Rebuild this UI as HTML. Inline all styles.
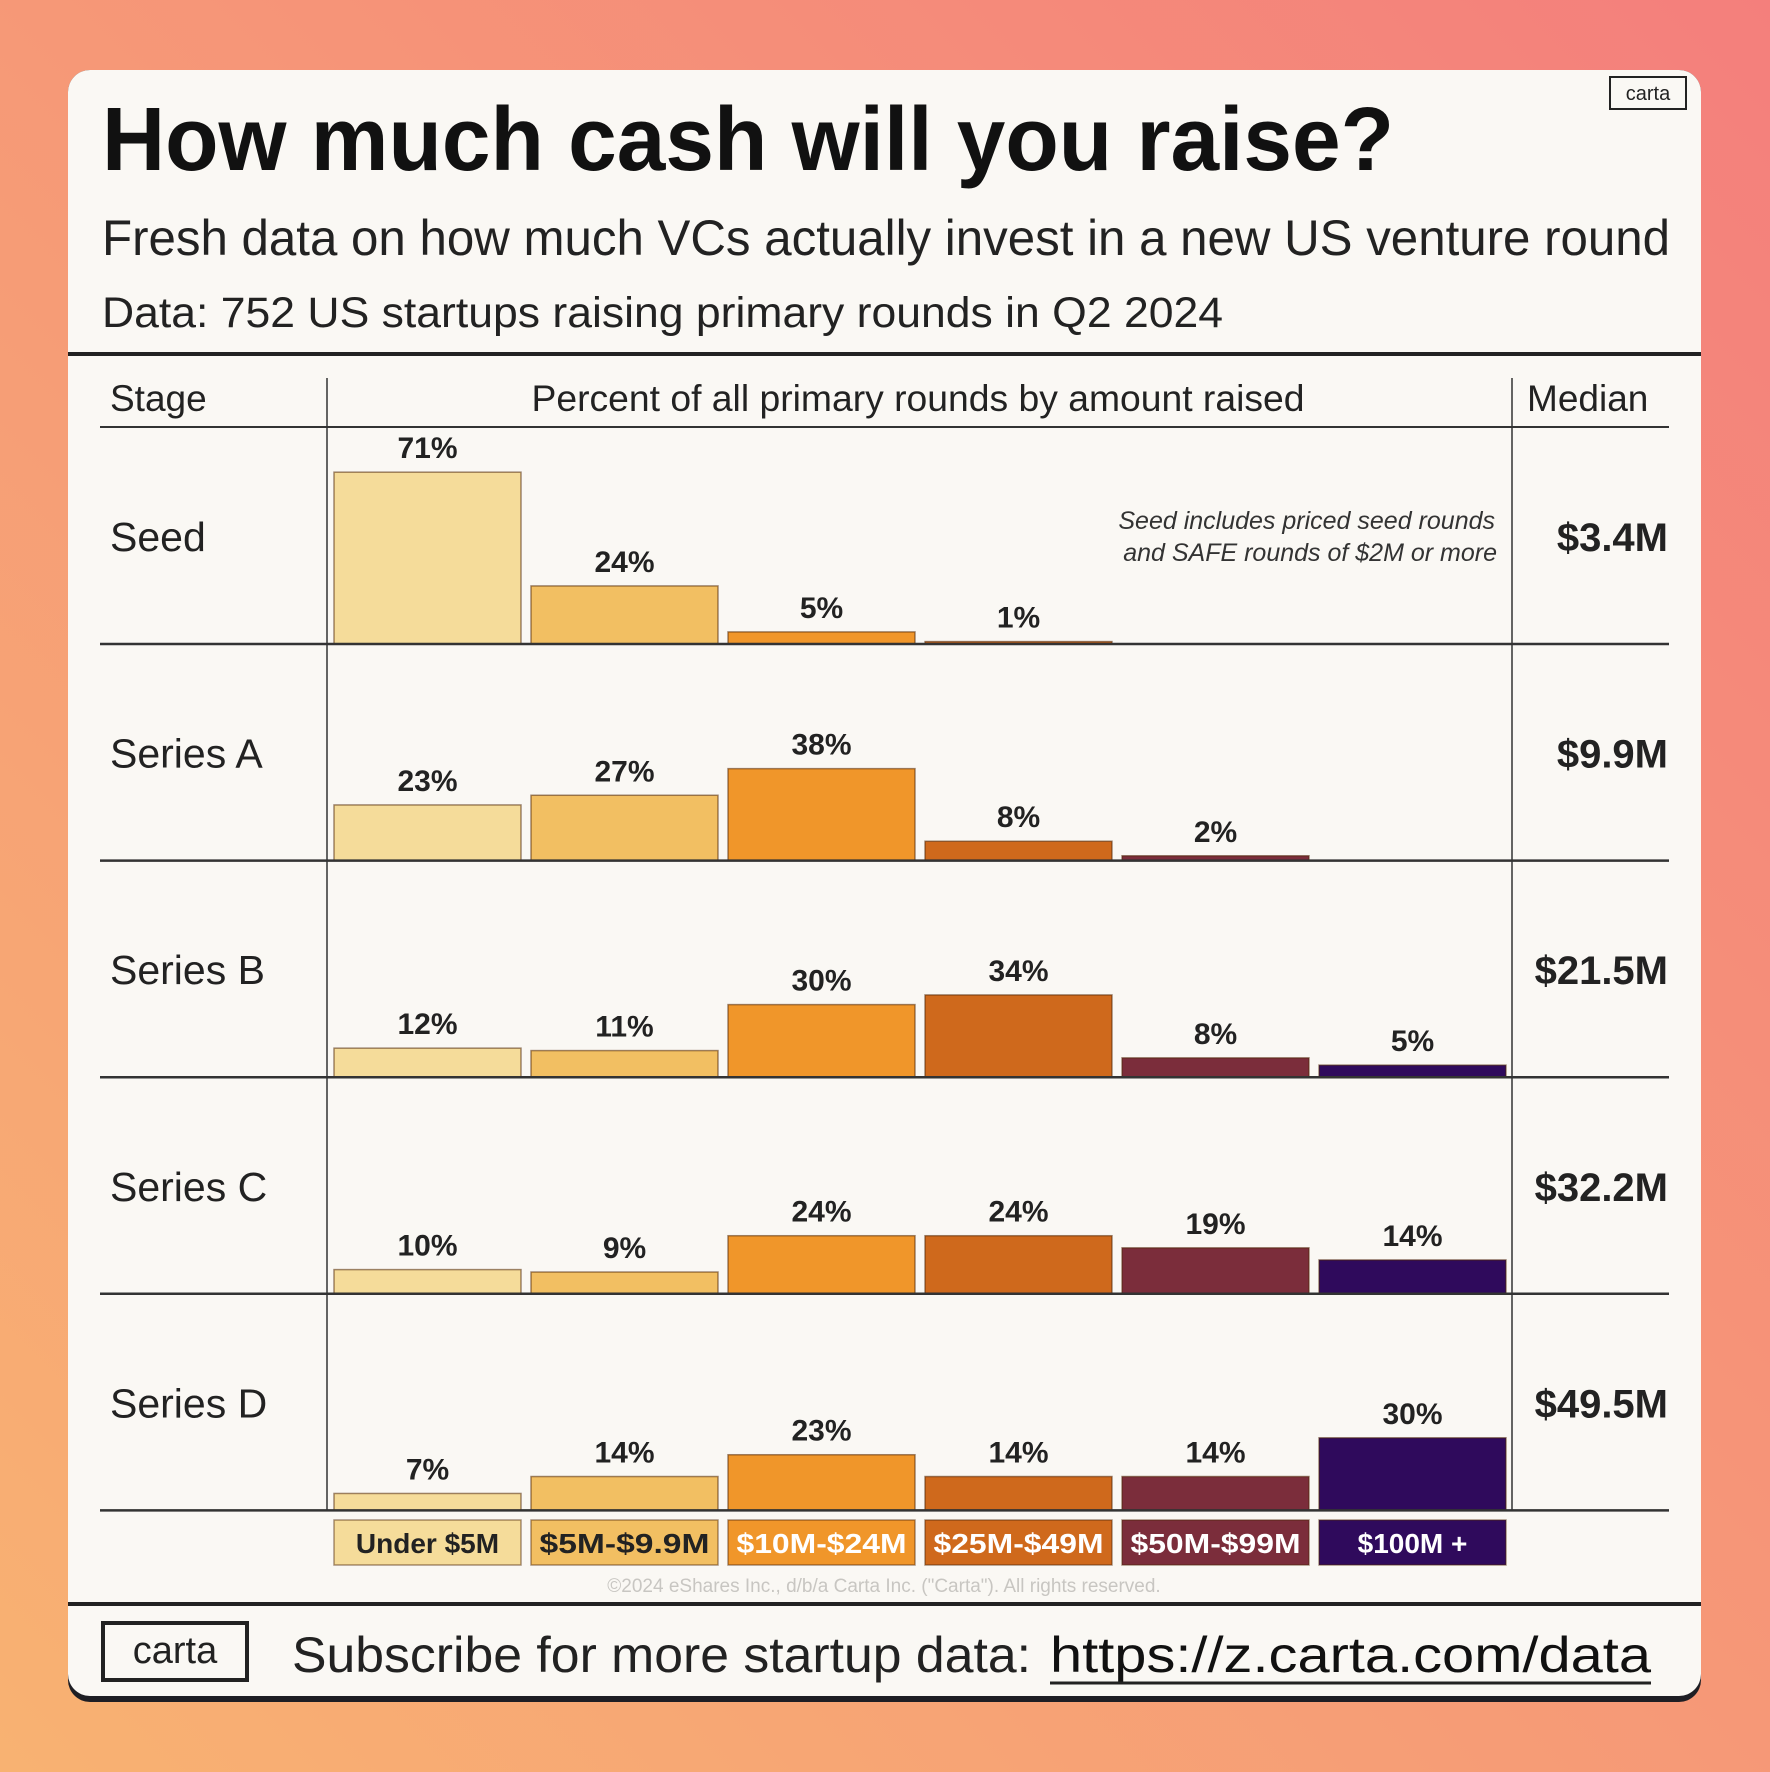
<!DOCTYPE html>
<html><head><meta charset="utf-8"><style>
html,body{margin:0;padding:0;width:1770px;height:1772px;overflow:hidden}
svg{display:block}
text{font-family:"Liberation Sans","DejaVu Sans",sans-serif}
</style></head><body>
<svg id="chart" width="1770" height="1772" viewBox="0 0 1770 1772" xmlns="http://www.w3.org/2000/svg">
<defs>
<linearGradient id="bg" x1="0" y1="1" x2="1" y2="0">
<stop offset="0" stop-color="#f8b272"/><stop offset="1" stop-color="#f47f7c"/>
</linearGradient>
</defs>
<rect width="1770" height="1772" fill="url(#bg)"/>
<rect x="68" y="70" width="1633" height="1632" rx="22" fill="#1e1e24"/>
<rect x="68" y="70" width="1633" height="1626" rx="22" fill="#faf8f4"/>
<rect x="1610" y="77" width="76" height="32" fill="none" stroke="#222" stroke-width="2"/>
<text x="1648" y="100" font-size="20" text-anchor="middle" fill="#222">carta</text>
<text x="102" y="170" font-size="90" font-weight="bold" fill="#111" textLength="1292" lengthAdjust="spacingAndGlyphs">How much cash will you raise?</text>
<text x="102" y="255" font-size="50" fill="#222" textLength="1568" lengthAdjust="spacingAndGlyphs">Fresh data on how much VCs actually invest in a new US venture round</text>
<text x="102" y="327" font-size="43" fill="#222" textLength="1121" lengthAdjust="spacingAndGlyphs">Data: 752 US startups raising primary rounds in Q2 2024</text>
<rect x="68" y="352" width="1633" height="4" fill="#222"/>
<text x="110" y="411" font-size="37" fill="#222">Stage</text>
<text x="918" y="411" font-size="37" fill="#222" text-anchor="middle" textLength="773" lengthAdjust="spacingAndGlyphs">Percent of all primary rounds by amount raised</text>
<text x="1527" y="411" font-size="37" fill="#222">Median</text>
<line x1="100" y1="427" x2="1669" y2="427" stroke="#333" stroke-width="2"/>
<line x1="327" y1="378" x2="327" y2="1510" stroke="#333" stroke-width="1.5"/>
<line x1="1512" y1="378" x2="1512" y2="1510" stroke="#333" stroke-width="1.5"/>
<text x="1495" y="529" font-size="25" font-style="italic" fill="#333" text-anchor="end">Seed includes priced seed rounds</text>
<text x="1497" y="561" font-size="25" font-style="italic" fill="#333" text-anchor="end">and SAFE rounds of $2M or more</text>
<g id="rows"></g>
<g id="legend"></g>
<text x="884" y="1592" font-size="19" fill="#c8c6c2" text-anchor="middle">©2024 eShares Inc., d/b/a Carta Inc. ("Carta"). All rights reserved.</text>
<rect x="68" y="1602" width="1633" height="4" fill="#222"/>
<rect x="103" y="1623" width="144" height="57" fill="none" stroke="#222" stroke-width="4"/>
<text x="175" y="1663" font-size="38" fill="#222" text-anchor="middle">carta</text>
<text x="292" y="1672" font-size="50" fill="#222" textLength="739" lengthAdjust="spacingAndGlyphs">Subscribe for more startup data:</text>
<text x="1050" y="1672" font-size="50" fill="#111" textLength="601" lengthAdjust="spacingAndGlyphs">https://z.carta.com/data</text>
<line x1="1050" y1="1683" x2="1651" y2="1683" stroke="#222" stroke-width="3"/>
</svg>
<script>
const stages = ["Seed","Series A","Series B","Series C","Series D"];
const medians = ["$3.4M","$9.9M","$21.5M","$32.2M","$49.5M"];
const categories = ["Under $5M","$5M-$9.9M","$10M-$24M","$25M-$49M","$50M-$99M","$100M +"];
const seedValues = [71,24,5,1,null,null];
const seriesAValues = [23,27,38,8,2,null];
const seriesBValues = [12,11,30,34,8,5];
const seriesCValues = [10,9,24,24,19,14];
const seriesDValues = [7,14,23,14,14,30];
const allValues = [seedValues,seriesAValues,seriesBValues,seriesCValues,seriesDValues];
const colors = ["#f5dc9a","#f2bf62","#f0962a","#cf691c","#7b2d3b","#2f0a5c"];
const legendText = ["#222","#222","#fff","#fff","#fff","#fff"];

const NS = "http://www.w3.org/2000/svg";
const rowBase0 = 644, rowPitch = 216.6;
const colX0 = 334, colPitch = 197, barW = 187, pxPerPct = 2.42;
function xPos(i){ return colX0 + i*colPitch; }
function yBase(r){ return rowBase0 + r*rowPitch; }
function hScale(v){ return v*pxPerPct; }
function mk(tag, attrs, parent){
  const el = document.createElementNS(NS, tag);
  for (const k in attrs) el.setAttribute(k, attrs[k]);
  parent.appendChild(el); return el;
}
const rows = document.getElementById("rows");
stages.forEach((s, r) => {
  const base = yBase(r);
  const g = mk("g", {}, rows);
  
  
  const lab = mk("text", {x:110, y:base-93, "font-size":41, fill:"#222"}, g);
  lab.textContent = s;
  
  
  const med = mk("text", {x:1668, y:base-93, "font-size":40, "font-weight":"bold", fill:"#222", "text-anchor":"end"}, g);
  med.textContent = medians[r];
  
  
  allValues[r].forEach((v, i) => {
    if (v === null) return;
    const h = Math.max(hScale(v), 2);
    const rect = mk("rect", {x:xPos(i), y:base-h, width:barW, height:h, fill:colors[i], stroke:"rgba(80,40,10,0.55)", "stroke-width":1.5}, g);
    
    
    const t = mk("text", {x:xPos(i)+barW/2, y:base-h-14, "font-size":30, "font-weight":"bold", fill:"#222", "text-anchor":"middle"}, g);
    t.textContent = v + "%";
    
    
  });
  const ln = mk("line", {x1:100, y1:base, x2:1669, y2:base, stroke:"#333", "stroke-width":2.5}, g);
  
  
});
const legend = document.getElementById("legend");
categories.forEach((c, i) => {
  const r = mk("rect", {x:xPos(i), y:1520, width:barW, height:45, fill:colors[i], stroke:"rgba(80,40,10,0.5)", "stroke-width":1.5}, legend);
  
  
  const t = mk("text", {x:xPos(i)+barW/2, y:1553, "font-size":28, "font-weight":"bold", fill:legendText[i], "text-anchor":"middle", textLength:170, lengthAdjust:"spacingAndGlyphs"}, legend);
  if (i === 0 || i === 5) t.removeAttribute("textLength");
  t.textContent = c;
  
  
});
</script>
</body></html>
